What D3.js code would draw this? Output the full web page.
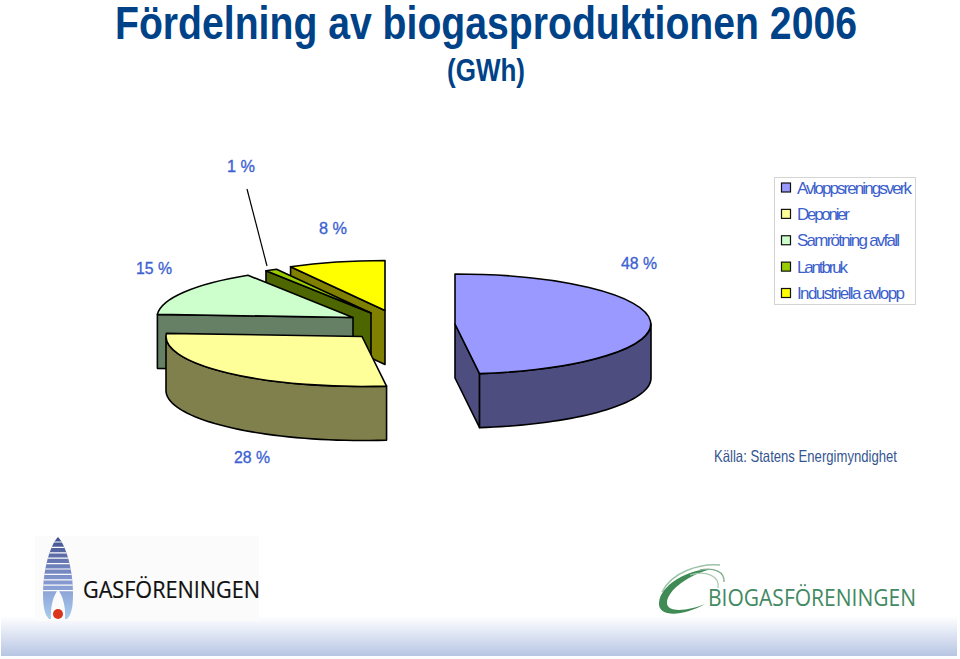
<!DOCTYPE html>
<html><head><meta charset="utf-8">
<script src="https://cdn.jsdelivr.net/npm/d3@7/dist/d3.min.js"></script>
<style>html,body{margin:0;padding:0;background:#fff}svg{display:block}text{font-family:"Liberation Sans",Arial,sans-serif}</style>
</head><body><div id="chart"></div>
<script>
const categories = ["Avloppsreningsverk","Deponier","Samrötning avfall","Lantbruk","Industriella avlopp"];
const shares = [48,28,15,1,8];
const percentLabels = ["48 %","28 %","15 %","1 %","8 %"];
const topColors = ["#9999ff","#ffff99","#ccffcc","#99cc00","#ffff00"];
const sideColors = ["#4d4d80","#80804d","#668066","#4d6600","#808000"];

const W=960,H=659;
const svg=d3.select("#chart").append("svg").attr("width",W).attr("height",H);
const defs=svg.append("defs");

// bottom band
const band=defs.append("linearGradient").attr("id","band").attr("x1",0).attr("x2",0).attr("y1",0).attr("y2",1);
band.append("stop").attr("offset",0).attr("stop-color","#ffffff");
band.append("stop").attr("offset",0.35).attr("stop-color","#e6ebf6");
band.append("stop").attr("offset",1).attr("stop-color","#b7c5e3");
svg.append("rect").attr("x",1).attr("y",616).attr("width",956).attr("height",40).attr("fill","url(#band)");

// titles
svg.append("text").attr("x",115).attr("y",38.5).attr("font-size",47).attr("font-weight","bold").attr("fill","#004288")
  .attr("textLength",742).attr("lengthAdjust","spacingAndGlyphs").text("Fördelning av biogasproduktionen 2006");
svg.append("text").attr("x",447).attr("y",81).attr("font-size",31).attr("font-weight","bold").attr("fill","#004288")
  .attr("textLength",78).attr("lengthAdjust","spacingAndGlyphs").text("(GWh)");

// pie
const pieLayout=d3.pie().sort(null).value(d=>d)(shares);
const rx=196, ry=50, depth=54;
const sliceCentres=[[455,324],[362,336.5],[353,317.5],[371,313],[385,310.5]];
const arcGen=d3.arc().innerRadius(0).outerRadius(1);
const px=(c,a)=>c[0]+rx*Math.sin(a), py=(c,a)=>c[1]-ry*Math.cos(a);
const wallArea=d3.area().x(d=>d.x).y0(d=>d.y).y1(d=>d.y+depth);
const pieG=svg.append("g");
[4,3,2,1,0].forEach(i=>{
  const s=pieLayout[i], c=sliceCentres[i], g=pieG.append("g");
  const wall=pts=>g.append("path").attr("d",wallArea(pts)).attr("fill",sideColors[i])
    .attr("stroke","#000").attr("stroke-width",1.6).attr("stroke-linejoin","round");
  // radial wall facing the viewer
  if(s.startAngle>Math.PI*1.2){
    wall([{x:px(c,s.startAngle),y:py(c,s.startAngle)},{x:c[0],y:c[1]}]);
  }
  if(s.endAngle<Math.PI*1.2){
    wall([{x:c[0],y:c[1]},{x:px(c,s.endAngle),y:py(c,s.endAngle)}]);
  }
  // curved outer wall on the front half
  const a0=Math.max(s.startAngle,Math.PI/2), a1=Math.min(s.endAngle,Math.PI*1.5);
  if(a1>a0){
    const pts=d3.range(0,41).map(k=>{const a=a0+(a1-a0)*k/40;return {x:px(c,a),y:py(c,a)};});
    wall(pts);
  }
  g.append("path").attr("transform",`translate(${c[0]},${c[1]}) scale(${rx},${ry})`)
    .attr("d",arcGen(s)).attr("fill",topColors[i]).attr("stroke","#000").attr("stroke-width",1.6)
    .attr("stroke-linejoin","round").attr("vector-effect","non-scaling-stroke");
});

// percent labels
const labelPos=[[621,269],[234,463],[136,274],[227,172],[319,234]];
svg.append("g").selectAll("text").data(percentLabels).join("text")
  .attr("x",(d,i)=>labelPos[i][0]).attr("y",(d,i)=>labelPos[i][1])
  .attr("font-size",17).attr("fill","#3d62d2").attr("stroke","#3d62d2").attr("stroke-width",0.35)
  .attr("textLength",(d,i)=>[36,36,36,28,28][i])
  .attr("lengthAdjust","spacingAndGlyphs").text(d=>d);
svg.append("line").attr("x1",247).attr("y1",189).attr("x2",267).attr("y2",266).attr("stroke","#000").attr("stroke-width",1.2);

// legend
svg.append("rect").attr("x",774.5).attr("y",177.5).attr("width",141).attr("height",127).attr("fill","#fff").attr("stroke","#d4d4d4");
const legendY=d3.scalePoint().domain(categories).range([187.5,293]);
const legendWidths=[115,53,103,51,108];
const lg=svg.append("g").selectAll("g").data(categories).join("g");
lg.append("rect").attr("x",781.5).attr("y",d=>legendY(d)-4.5).attr("width",9).attr("height",9)
  .attr("fill",(d,i)=>topColors[i]).attr("stroke","#111").attr("stroke-width",1.2);
lg.append("text").attr("x",797).attr("y",d=>legendY(d)+6).attr("font-size",17).attr("fill","#3d5fcc")
  .attr("textLength",(d,i)=>legendWidths[i]).attr("lengthAdjust","spacing").text(d=>d);

// source
svg.append("text").attr("x",714).attr("y",462).attr("font-size",16.5).attr("fill","#34558f")
  .attr("textLength",183).attr("lengthAdjust","spacingAndGlyphs").text("Källa: Statens Energimyndighet");

// Gasföreningen logo
svg.append("rect").attr("x",35).attr("y",536).attr("width",224).attr("height",85).attr("fill","#fbfbfb");
const flameGrad=defs.append("linearGradient").attr("id","flame").attr("x1",0).attr("x2",0).attr("y1",0).attr("y2",1);
flameGrad.append("stop").attr("offset",0).attr("stop-color","#3f4f8f");
flameGrad.append("stop").attr("offset",0.5).attr("stop-color","#8193cc");
flameGrad.append("stop").attr("offset",1).attr("stop-color","#a8cdf0");
const flamePath="M58,537 C66,545 73,570 73,594 C73,608 71,615 67,619 L49,619 C45,615 43,608 43,594 C43,570 50,545 58,537 Z";
defs.append("clipPath").attr("id","flameClip").append("path").attr("d",flamePath);
const fg=svg.append("g");
const stripes=fg.append("g").attr("clip-path","url(#flameClip)");
stripes.append("rect").attr("x",40).attr("y",537).attr("width",36).attr("height",83).attr("fill","url(#flame)");
stripes.selectAll("line").data(d3.range(542,596,5.4)).join("line")
  .attr("x1",40).attr("x2",76).attr("y1",d=>d).attr("y2",d=>d).attr("stroke","#fbfbfb").attr("stroke-width",1.2);
fg.append("path").attr("d","M58,590 C62,594 66,606 65,619 L51,619 C50,606 54,594 58,590 Z").attr("fill","#fbfbfb");
fg.append("circle").attr("cx",58).attr("cy",614).attr("r",5).attr("fill","#d9351f");
svg.append("text").attr("x",83).attr("y",598).attr("font-size",23).style("font-family","'Open Sans'").attr("fill","#111")
  .attr("stroke","#111").attr("stroke-width",0.2)
  .attr("textLength",177).attr("lengthAdjust","spacingAndGlyphs").text("GASFÖRENINGEN");

// Biogasföreningen logo
const swirl=svg.append("g");
swirl.append("path").attr("d","M712,569 C688,569 660,585 659,603 C658,617 682,617 705,604 C688,611 667,613 667,603 C667,590 690,574 712,569 Z").attr("fill","#3f8a55");
swirl.append("path").attr("d","M720,565 C700,563 672,572 662,592").attr("fill","none").attr("stroke","#9cc3a6").attr("stroke-width",1.4);
swirl.append("path").attr("d","M700,570 C714,567 725,572 724,582").attr("fill","none").attr("stroke","#7fae8c").attr("stroke-width",1.4);
swirl.append("path").attr("d","M690,575 C706,570 720,576 718,588").attr("fill","none").attr("stroke","#a9cbb2").attr("stroke-width",1.2);
svg.append("text").attr("x",708).attr("y",606).attr("font-size",24).style("font-family","'Open Sans'").attr("fill","#438a62")
  .attr("textLength",208).attr("lengthAdjust","spacingAndGlyphs").text("BIOGASFÖRENINGEN");
</script></body></html>
